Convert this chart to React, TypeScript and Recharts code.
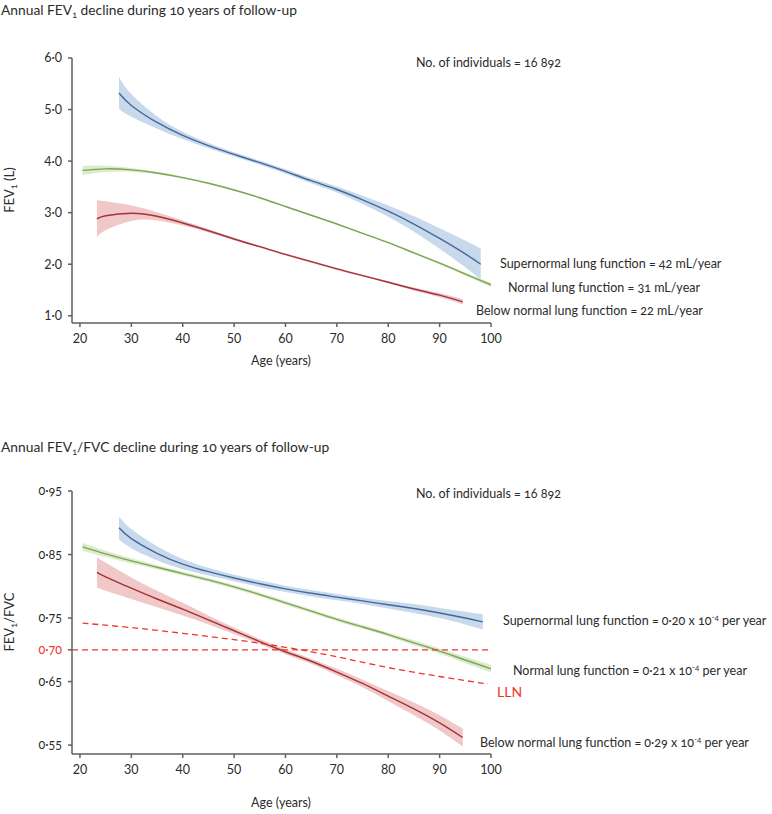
import { ComposedChart, Line, Area, XAxis, YAxis, ReferenceLine } from "recharts";

// ages (x) shared by ticks
const ageTicks = [20, 30, 40, 50, 60, 70, 80, 90, 100];
const fevTicks = [1, 2, 3, 4, 5, 6];
const ratioTicks = [0.55, 0.65, 0.7, 0.75, 0.85, 0.95];

// FEV1 (L) – supernormal
const fevSuperAge = [27.6, 30, 35, 40, 45, 50, 55, 60, 65, 70, 75, 80, 85, 90, 95, 98];
const fevSuper = [5.32, 5.08, 4.75, 4.5, 4.3, 4.13, 3.97, 3.8, 3.62, 3.45, 3.25, 3.03, 2.78, 2.5, 2.2, 2.0];
const fevSuperCI = [0.31, 0.22, 0.12, 0.07, 0.05, 0.04, 0.04, 0.04, 0.05, 0.06, 0.08, 0.11, 0.15, 0.2, 0.26, 0.3];

// FEV1 (L) – normal
const fevNormAge = [20.5, 25, 30, 35, 40, 45, 50, 55, 60, 65, 70, 75, 80, 85, 90, 95, 100];
const fevNorm = [3.82, 3.85, 3.83, 3.77, 3.68, 3.57, 3.44, 3.29, 3.12, 2.95, 2.78, 2.6, 2.42, 2.22, 2.02, 1.81, 1.6];
const fevNormCI = [0.09, 0.06, 0.035, 0.025, 0.02, 0.015, 0.015, 0.015, 0.015, 0.015, 0.015, 0.015, 0.015, 0.02, 0.025, 0.03, 0.04];

// FEV1 (L) – below normal
const fevLowAge = [23.3, 25, 30, 35, 40, 45, 50, 55, 60, 65, 70, 75, 80, 85, 90, 94.5];
const fevLow = [2.88, 2.94, 2.99, 2.93, 2.8, 2.65, 2.49, 2.34, 2.19, 2.05, 1.91, 1.78, 1.65, 1.52, 1.4, 1.27];
const fevLowCI = [0.36, 0.28, 0.15, 0.08, 0.05, 0.035, 0.025, 0.02, 0.02, 0.02, 0.02, 0.02, 0.02, 0.03, 0.04, 0.05];

// FEV1/FVC – supernormal
const ratioSuperAge = [27.6, 30, 35, 40, 45, 50, 55, 60, 65, 70, 75, 80, 85, 90, 95, 98.4];
const ratioSuper = [0.892, 0.875, 0.852, 0.835, 0.823, 0.813, 0.804, 0.796, 0.789, 0.783, 0.777, 0.771, 0.765, 0.758, 0.75, 0.744];
const ratioSuperCI = [0.018, 0.015, 0.011, 0.008, 0.006, 0.005, 0.005, 0.005, 0.005, 0.005, 0.005, 0.006, 0.007, 0.008, 0.01, 0.012];

// FEV1/FVC – normal
const ratioNormAge = [20.5, 25, 30, 35, 40, 45, 50, 55, 60, 65, 70, 75, 80, 85, 90, 95, 100.5];
const ratioNorm = [0.862, 0.851, 0.84, 0.83, 0.82, 0.81, 0.799, 0.787, 0.774, 0.761, 0.748, 0.736, 0.724, 0.711, 0.698, 0.684, 0.669];
const ratioNormCI = [0.006, 0.005, 0.004, 0.003, 0.003, 0.003, 0.003, 0.003, 0.003, 0.003, 0.003, 0.003, 0.003, 0.004, 0.004, 0.005, 0.006];

// FEV1/FVC – below normal
const ratioLowAge = [23.3, 25, 30, 35, 40, 45, 50, 55, 60, 65, 70, 75, 80, 85, 90, 94.5];
const ratioLow = [0.822, 0.815, 0.797, 0.78, 0.764, 0.747, 0.73, 0.713, 0.697, 0.682, 0.665, 0.647, 0.627, 0.607, 0.585, 0.562];
const ratioLowCI = [0.024, 0.022, 0.017, 0.013, 0.01, 0.007, 0.005, 0.004, 0.004, 0.004, 0.005, 0.006, 0.008, 0.01, 0.012, 0.014];

// lower limit of normal
const llnAge = [20.5, 30, 40, 50, 60, 70, 80, 90, 99.4];
const lln = [0.742, 0.735, 0.726, 0.716, 0.704, 0.689, 0.672, 0.658, 0.646];

const FONT = "Lato, 'Open Sans', sans-serif";
const TEXT = "#2b2b2b";
const AXIS = "#5f5f5f";

const BLUE = "#45689c";
const BLUE_BAND = "#c8d9ec";
const GREEN = "#7aa755";
const GREEN_BAND = "#dcebcb";
const RED = "#a3323a";
const RED_BAND = "#f0c8c8";
const LLN_RED = "#f0342a";

const rows = (ages: number[], vals: number[], ci?: number[]) =>
  ages.map((age, i) => ({
    age,
    v: vals[i],
    band: ci ? [vals[i] - ci[i], vals[i] + ci[i]] : undefined,
  }));

const dot = (n: number, d: number) => n.toFixed(d).replace(".", "·");

const tickStyle = { fill: TEXT, fontSize: 12.5, fontFamily: FONT, fontVariantNumeric: "oldstyle-nums" };

function RatioTick(props: any) {
  const { x, y, payload } = props;
  const red = Math.abs(payload.value - 0.7) < 1e-6;
  return (
    <text
      x={x}
      y={y}
      dy="0.35em"
      textAnchor="end"
      fill={red ? LLN_RED : TEXT}
      fontSize={12.5}
      fontFamily={FONT}
      style={{ fontVariantNumeric: "oldstyle-nums" }}
    >
      {dot(payload.value, 2)}
    </text>
  );
}

// band + centre line for one group
const series = (ages: number[], vals: number[], ci: number[], color: string, band: string, key: string) => [
  <Area
    key={key + "b"}
    data={rows(ages, vals, ci)}
    dataKey="band"
    type="natural"
    stroke="none"
    fill={band}
    fillOpacity={1}
    isAnimationActive={false}
  />,
  <Line
    key={key + "l"}
    data={rows(ages, vals)}
    dataKey="v"
    type="natural"
    stroke={color}
    strokeWidth={1.4}
    dot={false}
    isAnimationActive={false}
  />,
];

export default function App() {
  const txt = { fontFamily: FONT, fill: TEXT, fontSize: 12.5, style: { fontVariantNumeric: "oldstyle-nums" } } as any;
  return (
    <div style={{ position: "absolute", left: 0, top: 0, width: 772, height: 814, background: "#fff" }}>
      <div style={{ position: "absolute", left: 0, top: 0 }}>
        <ComposedChart width={772} height={400} margin={{ top: 58, right: 281, bottom: 47, left: 32 }}>
          <XAxis
            type="number"
            dataKey="age"
            domain={[18.45, 100]}
            ticks={ageTicks}
            allowDataOverflow
            tick={tickStyle}
            tickSize={4}
            tickMargin={7}
            height={30}
            stroke={AXIS}
            strokeWidth={1.5}
          />
          <YAxis
            type="number"
            domain={[0.86, 6]}
            ticks={fevTicks}
            allowDataOverflow
            tickFormatter={(v: number) => dot(v, 1)}
            tick={tickStyle}
            tickSize={4}
            tickMargin={6}
            width={40}
            stroke={AXIS}
            strokeWidth={1.5}
          />
          {series(fevSuperAge, fevSuper, fevSuperCI, BLUE, BLUE_BAND, "s")}
          {series(fevNormAge, fevNorm, fevNormCI, GREEN, GREEN_BAND, "n")}
          {series(fevLowAge, fevLow, fevLowCI, RED, RED_BAND, "l")}
        </ComposedChart>
      </div>
      <div style={{ position: "absolute", left: 0, top: 420 }}>
        <ComposedChart width={772} height={394} margin={{ top: 71, right: 281, bottom: 30, left: 32 }}>
          <XAxis
            type="number"
            dataKey="age"
            domain={[18.45, 100]}
            ticks={ageTicks}
            allowDataOverflow
            tick={tickStyle}
            tickSize={4}
            tickMargin={7}
            height={30}
            stroke={AXIS}
            strokeWidth={1.5}
          />
          <YAxis
            type="number"
            domain={[0.536, 0.95]}
            ticks={ratioTicks}
            allowDataOverflow
            tick={<RatioTick />}
            tickSize={4}
            tickMargin={6}
            width={40}
            stroke={AXIS}
            strokeWidth={1.5}
          />
          {series(ratioSuperAge, ratioSuper, ratioSuperCI, BLUE, BLUE_BAND, "s")}
          {series(ratioNormAge, ratioNorm, ratioNormCI, GREEN, GREEN_BAND, "n")}
          {series(ratioLowAge, ratioLow, ratioLowCI, RED, RED_BAND, "l")}
          <ReferenceLine y={0.7} stroke={LLN_RED} strokeDasharray="6 4" strokeWidth={1.3} />
          <Line
            data={rows(llnAge, lln)}
            dataKey="v"
            type="natural"
            stroke={LLN_RED}
            strokeWidth={1.3}
            strokeDasharray="6 4"
            dot={false}
            isAnimationActive={false}
          />
        </ComposedChart>
      </div>
      <svg width={772} height={814} style={{ position: "absolute", left: 0, top: 0, pointerEvents: "none" }}>
        <text x={1} y={15} {...txt} fontSize={13.8}>
          Annual FEV<tspan fontSize={9} dy={3}>1</tspan>
          <tspan dy={-3}> decline during 10 years of follow-up</tspan>
        </text>
        <text x={416} y={67} {...txt}>No. of individuals = 16 892</text>
        <text x={500} y={268} {...txt}>Supernormal lung function = 42 mL/year</text>
        <text x={508} y={292} {...txt}>Normal lung function = 31 mL/year</text>
        <text x={476} y={315} {...txt}>Below normal lung function = 22 mL/year</text>
        <text x={281} y={365} textAnchor="middle" {...txt}>Age (years)</text>
        <text x={14} y={190} textAnchor="middle" transform="rotate(-90 14 190)" {...txt} fontSize={13}>
          FEV<tspan fontSize={9} dy={3}>1</tspan>
          <tspan dy={-3}> (L)</tspan>
        </text>

        <text x={1} y={452} {...txt} fontSize={13.8}>
          Annual FEV<tspan fontSize={9} dy={3}>1</tspan>
          <tspan dy={-3}>/FVC decline during 10 years of follow-up</tspan>
        </text>
        <text x={416} y={498} {...txt}>No. of individuals = 16 892</text>
        <text x={503} y={625} {...txt}>
          Supernormal lung function = 0·20 x 10<tspan fontSize={8} dy={-5}>-4</tspan>
          <tspan dy={5}> per year</tspan>
        </text>
        <text x={513} y={675} {...txt}>
          Normal lung function = 0·21 x 10<tspan fontSize={8} dy={-5}>-4</tspan>
          <tspan dy={5}> per year</tspan>
        </text>
        <text x={497} y={697} {...txt} fill={LLN_RED} fontSize={14}>LLN</text>
        <text x={480} y={747} {...txt}>
          Below normal lung function = 0·29 x 10<tspan fontSize={8} dy={-5}>-4</tspan>
          <tspan dy={5}> per year</tspan>
        </text>
        <text x={281} y={807} textAnchor="middle" {...txt}>Age (years)</text>
        <text x={14} y={622} textAnchor="middle" transform="rotate(-90 14 622)" {...txt} fontSize={13}>
          FEV<tspan fontSize={9} dy={3}>1</tspan>
          <tspan dy={-3}>/FVC</tspan>
        </text>
      </svg>
    </div>
  );
}
